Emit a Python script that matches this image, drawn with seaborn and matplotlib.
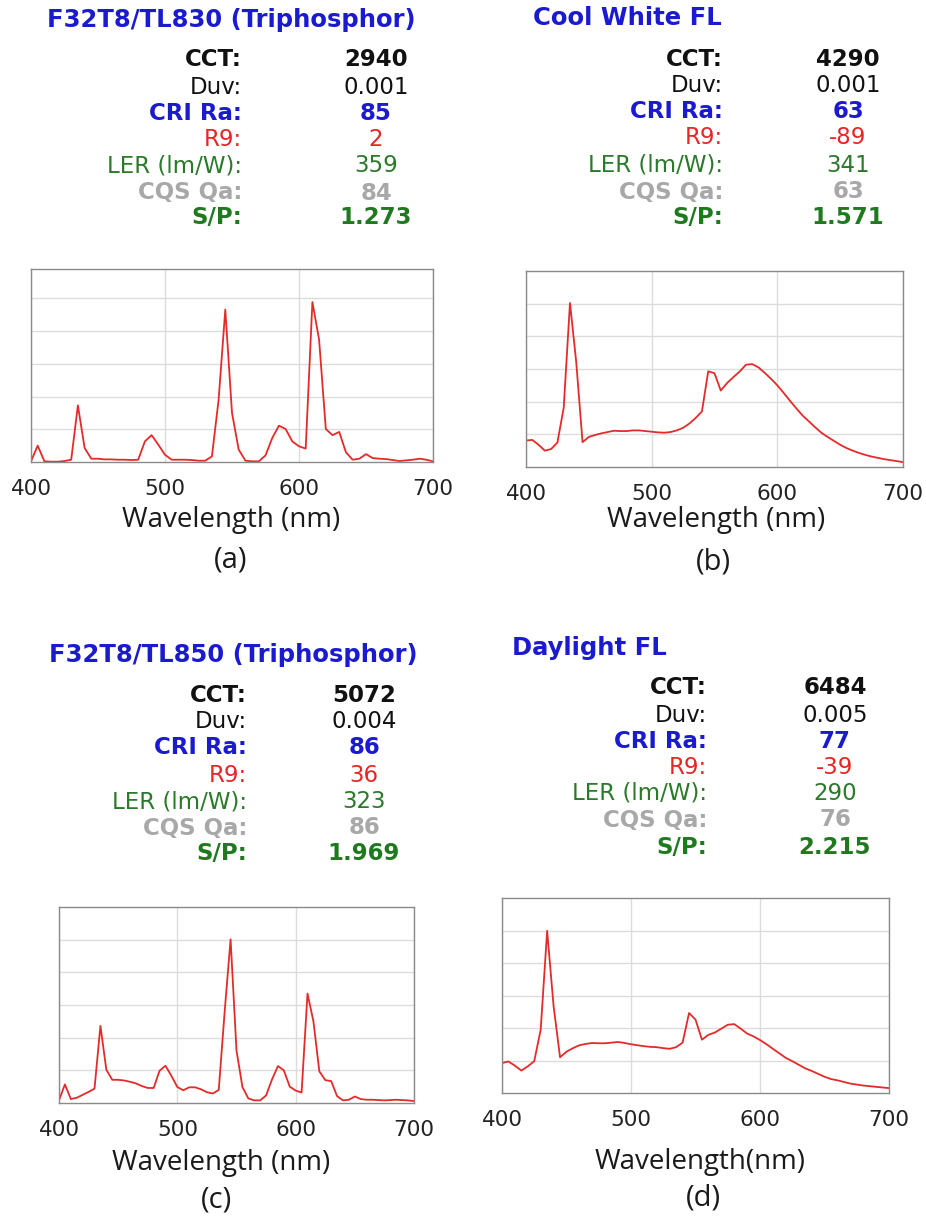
import numpy as np
import pandas as pd
import matplotlib
matplotlib.use("Agg")
import matplotlib.pyplot as plt
import seaborn as sns

# ---------------- data ----------------
wavelength = list(range(400, 701, 5))

spd_a = [0.02, 0.5, 0.02, 0.01, 0.01, 0.03, 0.07, 1.73, 0.43, 0.1, 0.1, 0.08, 0.08, 0.07, 0.07, 0.06,
         0.07, 0.63, 0.82, 0.53, 0.22, 0.07, 0.07, 0.07, 0.06, 0.04, 0.04, 0.17, 1.9, 4.66, 1.5, 0.38,
         0.04, 0.02, 0.02, 0.2, 0.73, 1.11, 1.01, 0.63, 0.48, 0.41, 4.89, 3.74, 1.01, 0.82, 0.92, 0.3,
         0.07, 0.1, 0.24, 0.12, 0.1, 0.09, 0.06, 0.03, 0.05, 0.07, 0.1, 0.07, 0.02]

spd_b = [0.81, 0.83, 0.68, 0.5, 0.55, 0.75, 1.81, 5.02, 3.2, 0.76, 0.92, 0.98, 1.03, 1.07, 1.11, 1.1,
         1.1, 1.12, 1.12, 1.1, 1.08, 1.06, 1.05, 1.07, 1.12, 1.2, 1.33, 1.5, 1.7, 2.93, 2.87, 2.34,
         2.57, 2.75, 2.92, 3.13, 3.15, 3.05, 2.88, 2.7, 2.5, 2.27, 2.03, 1.8, 1.58, 1.4, 1.22, 1.05,
         0.92, 0.8, 0.68, 0.58, 0.5, 0.43, 0.37, 0.32, 0.28, 0.24, 0.21, 0.18, 0.15]

spd_c = [0.08, 0.57, 0.12, 0.16, 0.25, 0.34, 0.44, 2.36, 1.02, 0.71, 0.71, 0.69, 0.65, 0.6, 0.52, 0.46,
         0.46, 0.99, 1.14, 0.83, 0.49, 0.39, 0.48, 0.48, 0.42, 0.33, 0.29, 0.4, 2.8, 5.01, 1.61, 0.49,
         0.14, 0.08, 0.08, 0.23, 0.72, 1.13, 1.0, 0.5, 0.38, 0.32, 3.35, 2.5, 0.97, 0.7, 0.67, 0.21,
         0.08, 0.1, 0.2, 0.12, 0.1, 0.1, 0.09, 0.08, 0.09, 0.1, 0.09, 0.08, 0.06]

spd_d = [0.92, 0.97, 0.84, 0.69, 0.82, 0.98, 1.95, 4.99, 2.67, 1.1, 1.27, 1.38, 1.47, 1.51, 1.54, 1.53,
         1.53, 1.55, 1.57, 1.54, 1.5, 1.47, 1.44, 1.42, 1.41, 1.38, 1.36, 1.41, 1.55, 2.46, 2.26, 1.64,
         1.79, 1.86, 1.98, 2.1, 2.12, 1.98, 1.83, 1.74, 1.63, 1.5, 1.36, 1.22, 1.08, 0.98, 0.87, 0.76,
         0.68, 0.59, 0.5, 0.43, 0.39, 0.34, 0.29, 0.26, 0.23, 0.21, 0.19, 0.17, 0.15]

titles = ["F32T8/TL830 (Triphosphor)", "Cool White FL", "F32T8/TL850 (Triphosphor)", "Daylight FL"]
panel_labels = ["(a)", "(b)", "(c)", "(d)"]
xlabels = ["Wavelength (nm)", "Wavelength (nm)", "Wavelength (nm)", "Wavelength(nm)"]
metric_names = ["CCT:", "Duv:", "CRI Ra:", "R9:", "LER (lm/W):", "CQS Qa:", "S/P:"]
metric_values = [
    ["2940", "0.001", "85", "2", "359", "84", "1.273"],
    ["4290", "0.001", "63", "-89", "341", "63", "1.571"],
    ["5072", "0.004", "86", "36", "323", "86", "1.969"],
    ["6484", "0.005", "77", "-39", "290", "76", "2.215"],
]
x_ticks = [400, 500, 600, 700]

# ---------------- style ----------------
sns.set_style("white")
plt.rcParams['font.family'] = ['DejaVu Sans']

W, H = 926, 1226
fig = plt.figure(figsize=(W / 100, H / 100), dpi=100)

def fx(x):
    return x / W

def fy(y):
    return 1 - y / H

metric_colors = ["#111111", "#111111", "#1a1ad0", "#e82525", "#2a7a2a", "#a8a8a8", "#1f7a1f"]
metric_weights = ["bold", "normal", "bold", "normal", "normal", "bold", "bold"]

# pixel layout per panel
axes_px = [(31, 269, 433, 462), (526, 271, 903, 467), (59, 907, 414, 1103), (502, 898, 889, 1093)]
ylims = [5.9, 6.0, 6.0, 6.0]
title_pos = [(231, 20, "center"), (533, 18, "left"), (233, 655, "center"), (512, 648, "left")]
label_right = [242, 723, 247, 707]
value_center = [376, 848, 364, 835]
row_y = [[59, 87, 113, 140, 166, 193, 218],
         [59, 86, 112, 138, 165, 192, 218],
         [695, 722, 748, 775, 802, 828, 854],
         [688, 715, 742, 768, 793, 820, 847]]
xlabel_pos = [(231, 520), (716, 520), (221, 1163), (700, 1162)]
plabel_pos = [(231, 560), (713, 562), (216, 1200), (703, 1198)]

spds = [spd_a, spd_b, spd_c, spd_d]

for i in range(4):
    l, t, r, b = axes_px[i]
    ax = fig.add_axes([fx(l), fy(b), (r - l) / W, (b - t) / H])
    df = pd.DataFrame({"wl": wavelength, "spd": spds[i]})
    sns.lineplot(data=df, x="wl", y="spd", ax=ax, color="#e52a2a", linewidth=1.3)
    ax.set_xlim(400, 700)
    ax.set_ylim(0, ylims[i])
    ax.set_xticks(x_ticks)
    ax.set_yticks([1, 2, 3, 4, 5])
    ax.set_yticklabels([])
    ax.grid(True, color="#dcdcdc", linewidth=1.0)
    ax.tick_params(axis="both", length=0)
    ax.tick_params(axis="x", labelsize=15.5, pad=12, labelcolor="#222222")
    ax.set_xlabel("")
    ax.set_ylabel("")
    for s in ax.spines.values():
        s.set_visible(True)
        s.set_color("#8a8a8a")
        s.set_linewidth(1.0)

    tx, ty, ha = title_pos[i]
    fig.text(fx(tx), fy(ty), titles[i], ha=ha, va="center", fontsize=17.5,
             fontweight="bold", color="#1a1ad0")
    for k in range(7):
        fig.text(fx(label_right[i]), fy(row_y[i][k]), metric_names[k], ha="right", va="center",
                 fontsize=16.5, fontweight=metric_weights[k], color=metric_colors[k])
        fig.text(fx(value_center[i]), fy(row_y[i][k]), metric_values[i][k], ha="center", va="center",
                 fontsize=16.5, fontweight=metric_weights[k], color=metric_colors[k])

    xx, xy = xlabel_pos[i]
    fig.text(fx(xx), fy(xy), xlabels[i], ha="center", va="center", fontsize=20,
             family=["Open Sans", "DejaVu Sans"], color="#1a1a1a")
    px, py = plabel_pos[i]
    fig.text(fx(px), fy(py), panel_labels[i], ha="center", va="center", fontsize=21,
             family=["Open Sans", "DejaVu Sans"], color="#1a1a1a")

fig.savefig("out.png", dpi=100)
